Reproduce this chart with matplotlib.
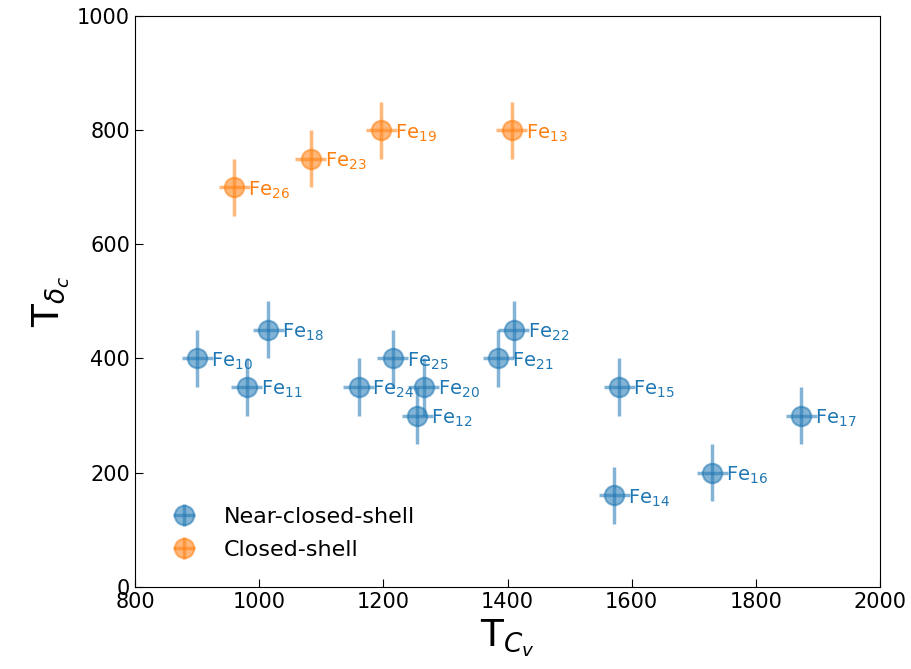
import matplotlib
matplotlib.use("Agg")
import matplotlib.pyplot as plt

# near-closed-shell clusters
near_labels = ["10", "11", "18", "24", "25", "20", "12", "21", "22", "15", "17", "14", "16"]
near_tcv = [900, 980, 1015, 1160, 1215, 1265, 1255, 1385, 1410, 1580, 1873, 1572, 1730]
near_tdc = [400, 350, 450, 350, 400, 350, 300, 400, 450, 350, 300, 160, 200]

# closed-shell clusters
closed_labels = ["26", "23", "19", "13"]
closed_tcv = [960, 1083, 1197, 1407]
closed_tdc = [700, 750, 800, 800]

xerr = 25
yerr = 50

fig, ax = plt.subplots(figsize=(9.12, 6.69), dpi=100)

def draw(xs, ys, labels, color, name):
    ax.errorbar(xs, ys, xerr=xerr, yerr=yerr, fmt='o', color=color, alpha=0.55,
                markersize=14, elinewidth=2.5, mew=1.5, label=name)
    for x, y, lab in zip(xs, ys, labels):
        ax.annotate(f"Fe$_{{{lab}}}$", (x, y), xytext=(10, -2), textcoords='offset points',
                    va='center', ha='left', fontsize=14, color=color)

draw(near_tcv, near_tdc, near_labels, '#1f77b4', 'Near-closed-shell')
draw(closed_tcv, closed_tdc, closed_labels, '#ff7f0e', 'Closed-shell')

ax.set_xlim(800, 2000)
ax.set_ylim(0, 1000)
ax.tick_params(direction='in', labelsize=15, length=6)
ax.set_xlabel("T$_{C_v}$", fontsize=27)
ax.set_ylabel("T$_{\\delta_c}$", fontsize=27)
ax.legend(loc='lower left', frameon=False, fontsize=16, borderaxespad=0.8,
          handletextpad=0.8, labelspacing=0.6)

plt.subplots_adjust(left=0.148, right=0.965, top=0.976, bottom=0.123)
plt.savefig("out.png", dpi=100)
